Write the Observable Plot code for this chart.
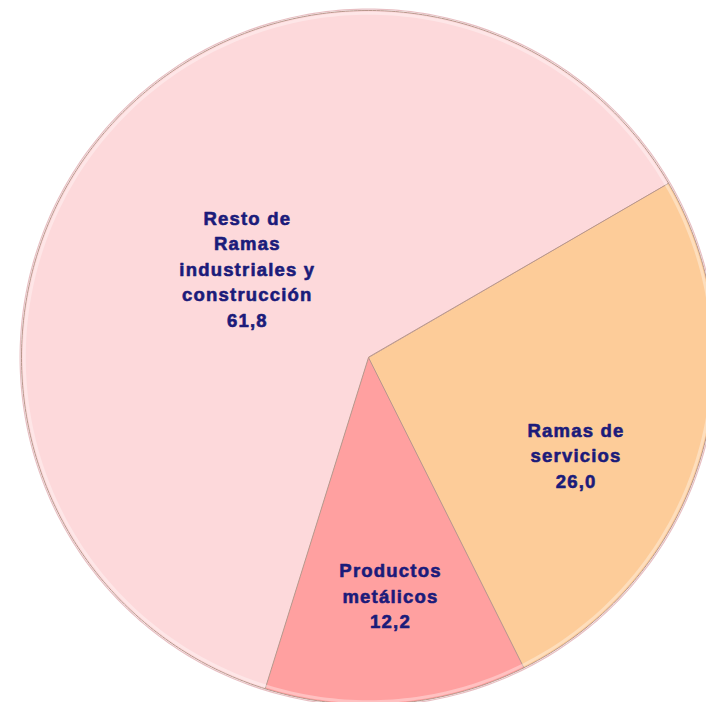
<!DOCTYPE html>
<html><head><meta charset="utf-8">
<script src="https://cdn.jsdelivr.net/npm/d3@7"></script>
<script src="https://cdn.jsdelivr.net/npm/@observablehq/plot@0.6"></script>
<style>html,body{margin:0;padding:0;background:#fff}</style>
</head><body><div id="chart"></div>
<script>
// ---- data ----
const categories = ["Ramas de servicios", "Productos metálicos", "Resto de Ramas industriales y construcción"];
const values = [26.0, 12.2, 61.8];
const valueLabels = ["26,0", "12,2", "61,8"];
const labelLines = [["Ramas de", "servicios"], ["Productos", "metálicos"], ["Resto de", "Ramas", "industriales y", "construcción"]];
const colors = ["#FDCC99", "#FFA0A0", "#FDD9DB"];

// ---- layout ----
const startDeg = 59.8; // first slice boundary, clockwise from 12 o'clock
const labelPolar = { // angle (deg, clockwise from north), radius fraction
  "Ramas de servicios": [115, 0.66],
  "Productos metálicos": [174.7, 0.686],
  "Resto de Ramas industriales y construcción": [306.6, 0.435]
};
const a0 = startDeg * Math.PI / 180;
const arcs = d3.pie().sort(null).startAngle(a0).endAngle(a0 + 2 * Math.PI)(values);

const polyPts = [];
arcs.forEach((a, i) => {
  polyPts.push({cat: categories[i], x: 0, y: 0});
  const n = Math.max(8, Math.ceil((a.endAngle - a.startAngle) * 90));
  for (let k = 0; k <= n; k++) {
    const t = a.startAngle + (a.endAngle - a.startAngle) * k / n;
    polyPts.push({cat: categories[i], x: Math.sin(t), y: Math.cos(t)});
  }
});
const ring = d3.range(0, 361, 1).map(d => ({x: Math.sin(d * Math.PI / 180), y: Math.cos(d * Math.PI / 180)}));

const labels = categories.map((c, i) => {
  const [deg, r] = labelPolar[c];
  const t = deg * Math.PI / 180;
  return {cat: c, x: r * Math.sin(t), y: r * Math.cos(t), text: labelLines[i].join("\n") + "\n" + valueLabels[i]};
});

const chart = Plot.plot({
  width: 706, height: 702,
  margin: 0,
  x: {domain: [-1, 1], range: [21, 715], axis: null},
  y: {domain: [-1, 1], range: [704, 10], axis: null},
  color: {domain: categories, range: colors},
  style: {background: "#fff", letterSpacing: "1.2px"},
  marks: [
    Plot.line(ring.map(d => ({x: d.x * 1.004, y: d.y * 1.004})), {x: "x", y: "y", stroke: "#e8bfc3", strokeWidth: 1.2}),
    Plot.line(polyPts, {x: "x", y: "y", z: "cat", fill: "cat", stroke: "#b9978c", strokeWidth: 1, curve: "linear-closed"}),
    Plot.line(ring.map(d => ({x: d.x * 0.992, y: d.y * 0.992})), {x: "x", y: "y", stroke: "#ffffff", strokeOpacity: 0.35, strokeWidth: 3}),
    Plot.text(labels, {x: "x", y: "y", text: "text", fill: "#1b1b7a", stroke: "#1b1b7a", strokeWidth: 0.6,
      fontSize: 18.5, fontWeight: "bold",
      fontFamily: "'Liberation Sans', Arial, sans-serif", lineHeight: 1.38, lineAnchor: "middle"})
  ]
});
document.getElementById("chart").appendChild(chart);
</script>
</body></html>
